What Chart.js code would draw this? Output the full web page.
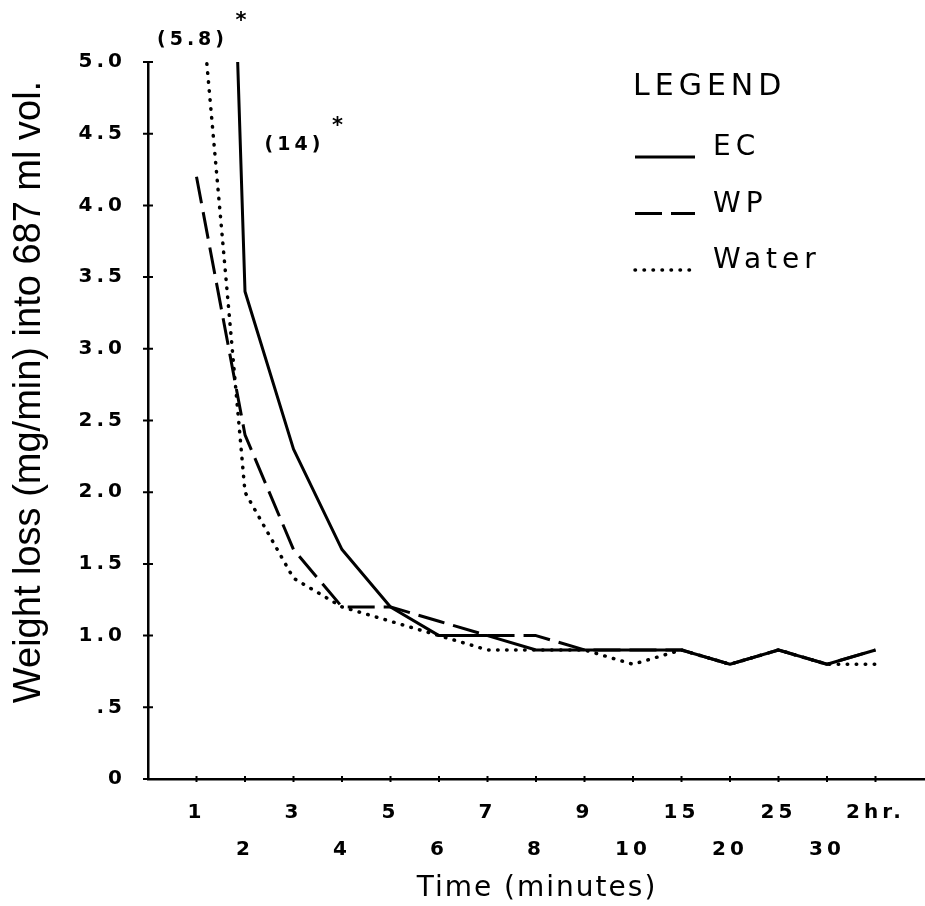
<!DOCTYPE html>
<html>
<head>
<meta charset="utf-8">
<script src="https://cdn.jsdelivr.net/npm/chart.js@4.4.1/dist/chart.umd.min.js"></script>
<style>
  html, body { margin: 0; padding: 0; background: #fff; }
  #chart { display: block; }
</style>
</head>
<body>
<canvas id="chart" width="925" height="906"></canvas>
<script>
// time points on the x axis (minutes, last one is 2 hours)
const timeLabels = ['1', '2', '3', '4', '5', '6', '7', '8', '9', '10', '15', '20', '25', '30', '2hr.'];

// weight loss (mg/min) into 687 ml vol.
const ecValues    = [14, 3.4, 2.3, 1.6, 1.2, 1.0, 1.0, 0.9, 0.9, 0.9, 0.9, 0.8, 0.9, 0.8, 0.9];
const wpValues    = [4.2, 2.4, 1.6, 1.2, 1.2, 1.1, 1.0, 1.0, 0.9, 0.9, 0.9, 0.8, 0.9, 0.8, 0.9];
const waterValues = [5.8, 2.0, 1.4, 1.2, 1.1, 1.0, 0.9, 0.9, 0.9, 0.8, 0.9, 0.8, 0.9, 0.8, 0.8];

const seriesNames = ['EC', 'WP', 'Water'];
const yTickValues = [0, 0.5, 1, 1.5, 2, 2.5, 3, 3.5, 4, 4.5, 5];

const yTitle = 'Weight loss (mg/min) into 687 ml vol.';
const xTitle = 'Time (minutes)';

const toPoints = vals => vals.map((v, i) => ({ x: i + 1, y: v }));
const tickFont = { family: 'DejaVu Sans', size: 20, weight: 'bold' };

// wide lettering like the original typeface (used by the tick labels)
const spacing = {
    id: 'spacing',
    beforeLayout(chart) { chart.ctx.letterSpacing = '4px'; },
    beforeDraw(chart) { chart.ctx.letterSpacing = '4px'; }
};

// tick marks that cross the axis lines
const tickMarks = {
    id: 'tickMarks',
    afterDraw(chart) {
        const { ctx, chartArea, scales: { x, y } } = chart;
        ctx.save();
        ctx.strokeStyle = '#000';
        ctx.lineWidth = 2;
        ctx.beginPath();
        y.ticks.forEach(t => {
            const py = y.getPixelForValue(t.value);
            ctx.moveTo(chartArea.left - 5, py);
            ctx.lineTo(chartArea.left + 5, py);
        });
        x.ticks.forEach(t => {
            const px = x.getPixelForValue(t.value);
            ctx.moveTo(px, chartArea.bottom - 3);
            ctx.lineTo(px, chartArea.bottom + 3);
        });
        ctx.stroke();
        ctx.restore();
    }
};

// axis titles: y one sits a bit above the middle in the original
const axisTitles = {
    id: 'axisTitles',
    afterDraw(chart) {
        const { ctx, chartArea } = chart;
        ctx.save();
        ctx.fillStyle = '#000';
        ctx.textAlign = 'center';
        ctx.textBaseline = 'alphabetic';

        ctx.letterSpacing = '2px';
        ctx.font = '28px "DejaVu Sans"';
        ctx.fillText(xTitle, (chartArea.left + chartArea.right) / 2 + 1, chartArea.bottom + 117);

        ctx.letterSpacing = '0px';
        ctx.translate(40, chartArea.top + 330);
        ctx.rotate(-Math.PI / 2);
        ctx.font = '38px "Liberation Sans"';
        ctx.fillText(yTitle, 0, 0);
        ctx.restore();
    }
};

// values that run off the top of the scale, e.g. (5.8)*
const offScale = {
    id: 'offScale',
    afterDatasetsDraw(chart) {
        const { ctx, scales: { x, y } } = chart;
        const spots = { 0: { at: 3, dx: 1, base: 150 }, 2: { at: 1, dx: -4, base: 45 } };
        ctx.save();
        ctx.fillStyle = '#000';
        ctx.letterSpacing = '4px';
        chart.data.datasets.forEach((ds, i) => {
            const first = ds.data[0].y;
            if (first <= y.max || !spots[i]) return;
            const s = spots[i];
            const cx = x.getPixelForValue(s.at) + s.dx;
            const txt = '(' + first + ')';
            ctx.font = 'bold 19px "DejaVu Sans"';
            ctx.textAlign = 'center';
            ctx.fillText(txt, cx, s.base);
            const w = ctx.measureText(txt).width;
            ctx.font = 'bold 21px "DejaVu Sans"';
            ctx.fillText('*', cx + w / 2 + 15, s.base - 18);
        });
        ctx.restore();
    }
};

const legendBox = {
    id: 'legendBox',
    afterDatasetsDraw(chart) {
        const { ctx, chartArea } = chart;
        const left = chartArea.left + 485;
        ctx.save();
        ctx.letterSpacing = '5px';
        ctx.fillStyle = '#000';
        ctx.textAlign = 'left';
        ctx.textBaseline = 'alphabetic';
        ctx.font = '30px "DejaVu Sans"';
        ctx.fillText('LEGEND', left, chartArea.top + 33);
        chart.data.datasets.forEach((ds, i) => {
            const yLine = chartArea.top + 95 + i * 56.5;
            ctx.beginPath();
            ctx.setLineDash(ds.borderDash || []);
            ctx.lineCap = ds.borderCapStyle || 'butt';
            ctx.lineWidth = ds.borderWidth;
            ctx.strokeStyle = ds.borderColor;
            ctx.moveTo(left + 2, yLine);
            ctx.lineTo(left + 62, yLine);
            ctx.stroke();
            ctx.font = '28px "DejaVu Sans"';
            ctx.fillText(ds.label, left + 80, yLine - 2);
        });
        ctx.restore();
    }
};

const config = {
    type: 'line',
    data: {
        datasets: [
            {
                label: seriesNames[0],
                data: toPoints(ecValues),
                borderColor: '#000',
                borderWidth: 3,
                borderJoinStyle: 'round',
                tension: 0
            },
            {
                label: seriesNames[1],
                data: toPoints(wpValues),
                borderColor: '#000',
                borderWidth: 3,
                borderDash: [27, 9],
                borderJoinStyle: 'round',
                tension: 0
            },
            {
                label: seriesNames[2],
                data: toPoints(waterValues),
                borderColor: '#000',
                borderWidth: 3.5,
                borderDash: [0.5, 8.5],
                borderCapStyle: 'round',
                borderJoinStyle: 'round',
                tension: 0
            }
        ]
    },
    options: {
        responsive: false,
        animation: false,
        layout: { padding: { top: 62, right: 1, left: 0, bottom: 0 } },
        elements: { point: { radius: 0, hoverRadius: 0 } },
        plugins: {
            legend: { display: false },
            tooltip: { enabled: false }
        },
        scales: {
            x: {
                type: 'linear',
                min: 0,
                max: 16,
                afterBuildTicks: s => { s.ticks = timeLabels.map((l, i) => ({ value: i + 1 })); },
                afterFit: s => { s.height = 127; },
                grid: { display: false, drawTicks: false },
                border: { display: true, color: '#000', width: 2.5 },
                ticks: {
                    autoSkip: false,
                    maxRotation: 0,
                    minRotation: 0,
                    padding: 15,
                    color: '#000',
                    font: { ...tickFont, lineHeight: 1.85 },
                    // odd positions on the upper row, even on the lower row
                    callback: (v, i) => i % 2 === 0 ? timeLabels[i] : ['', timeLabels[i]]
                },
                title: { display: false }
            },
            y: {
                min: 0,
                max: 5,
                afterBuildTicks: s => { s.ticks = yTickValues.map(v => ({ value: v })); },
                afterFit: s => { s.width = 148; },
                grid: { display: false, drawTicks: false },
                border: { display: true, color: '#000', width: 2.5 },
                ticks: {
                    padding: 22,
                    color: '#000',
                    font: tickFont,
                    callback: v => v === 0 ? '0' : (v < 1 ? '.5' : v.toFixed(1))
                }
            }
        }
    },
    plugins: [spacing, tickMarks, axisTitles, offScale, legendBox]
};

new Chart(document.getElementById('chart').getContext('2d'), config);
</script>
</body>
</html>
